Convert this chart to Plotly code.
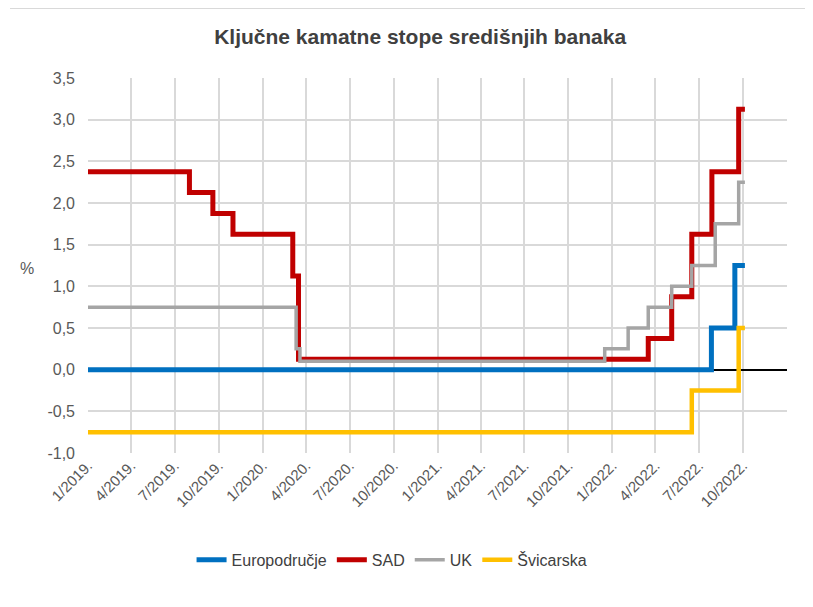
import plotly.graph_objects as go

# ---- data ----
end_date = "2022-10-05"

ea_dates = ["2019-01-01", "2022-07-27", "2022-09-14", end_date]
ea_values = [0.0, 0.5, 1.25, 1.25]

us_dates = ["2019-01-01", "2019-08-01", "2019-09-19", "2019-10-31", "2020-03-04",
            "2020-03-16", "2022-03-17", "2022-05-05", "2022-06-16", "2022-07-28",
            "2022-09-22", end_date]
us_values = [2.375, 2.125, 1.875, 1.625, 1.125, 0.125, 0.375, 0.875, 1.625, 2.375,
             3.125, 3.125]

uk_dates = ["2019-01-01", "2020-03-11", "2020-03-19", "2021-12-16", "2022-02-03",
            "2022-03-17", "2022-05-05", "2022-06-16", "2022-08-04", "2022-09-22", end_date]
uk_values = [0.75, 0.25, 0.1, 0.25, 0.5, 0.75, 1.0, 1.25, 1.75, 2.25, 2.25]

ch_dates = ["2019-01-01", "2022-06-16", "2022-09-22", end_date]
ch_values = [-0.75, -0.25, 0.5, 0.5]

tick_dates = ["2019-01-01", "2019-04-01", "2019-07-01", "2019-10-01",
              "2020-01-01", "2020-04-01", "2020-07-01", "2020-10-01",
              "2021-01-01", "2021-04-01", "2021-07-01", "2021-10-01",
              "2022-01-01", "2022-04-01", "2022-07-01", "2022-10-01", "2023-01-01"]
tick_labels = ["1/2019.", "4/2019.", "7/2019.", "10/2019.",
               "1/2020.", "4/2020.", "7/2020.", "10/2020.",
               "1/2021.", "4/2021.", "7/2021.", "10/2021.",
               "1/2022.", "4/2022.", "7/2022.", "10/2022.", ""]

y_ticks = [-1.0, -0.5, 0.0, 0.5, 1.0, 1.5, 2.0, 2.5, 3.0, 3.5]
y_labels = ["-1,0", "-0,5", "0,0", "0,5", "1,0", "1,5", "2,0", "2,5", "3,0", "3,5"]

series = [
    ("Europodručje", ea_dates, ea_values, "#0070C0", 5),
    ("SAD", us_dates, us_values, "#C00000", 5),
    ("UK", uk_dates, uk_values, "#A5A5A5", 3.5),
    ("Švicarska", ch_dates, ch_values, "#FFC000", 4.5),
]

font_main = "Liberation Sans, Arial, sans-serif"

fig = go.Figure()
for name, xs, ys, color, w in series:
    fig.add_trace(go.Scatter(
        x=xs, y=ys, name=name, mode="lines",
        line=dict(color=color, width=w, shape="hv"),
    ))

# page is rendered with an 8px body margin, so figure coords = page coords - 8
fig.update_layout(
    width=813, height=607,
    margin=dict(l=80, r=34, t=70, b=162, autoexpand=False),
    paper_bgcolor="white", plot_bgcolor="white",
    font=dict(family=font_main, color="#595959", size=14),
    title=dict(text="<b>Ključne kamatne stope središnjih banaka</b>",
               x=0.507, xanchor="center", xref="container", y=0.953, yanchor="middle",
               font=dict(family=font_main, size=21, color="#404040")),
    showlegend=True,
    legend=dict(orientation="h", x=0.435, xanchor="center", y=-0.285, yanchor="middle",
                font=dict(size=16, color="#404040"),
                traceorder="normal"),
)

fig.update_xaxes(
    type="date", range=["2019-01-01", "2023-01-01"],
    tickmode="array", tickvals=tick_dates, ticktext=tick_labels,
    tickangle=-45, showgrid=True, gridcolor="#D9D9D9", gridwidth=1.5,
    showline=False, zeroline=False, ticks="", automargin=False,
    tickfont=dict(size=15, color="#595959"),
)
fig.update_yaxes(
    range=[-1.0, 3.5], tickmode="array", tickvals=y_ticks, ticktext=y_labels,
    showgrid=True, gridcolor="#D9D9D9", gridwidth=1.5,
    zeroline=True, zerolinecolor="black", zerolinewidth=2,
    showline=False, ticks="", automargin=False, ticklabelstandoff=12,
    tickfont=dict(size=16, color="#595959"),
)

fig.add_annotation(text="%", xref="paper", yref="paper", x=-0.087, y=(445 - 260) / 375,
                   showarrow=False, font=dict(size=16, color="#595959"),
                   xanchor="center", yanchor="middle")

fig.add_shape(type="line", xref="paper", yref="paper",
              x0=-0.1116, x1=1.04, y0=445 / 375, y1=445 / 375,
              line=dict(color="#D9D9D9", width=2))

fig.write_html("out.html")
